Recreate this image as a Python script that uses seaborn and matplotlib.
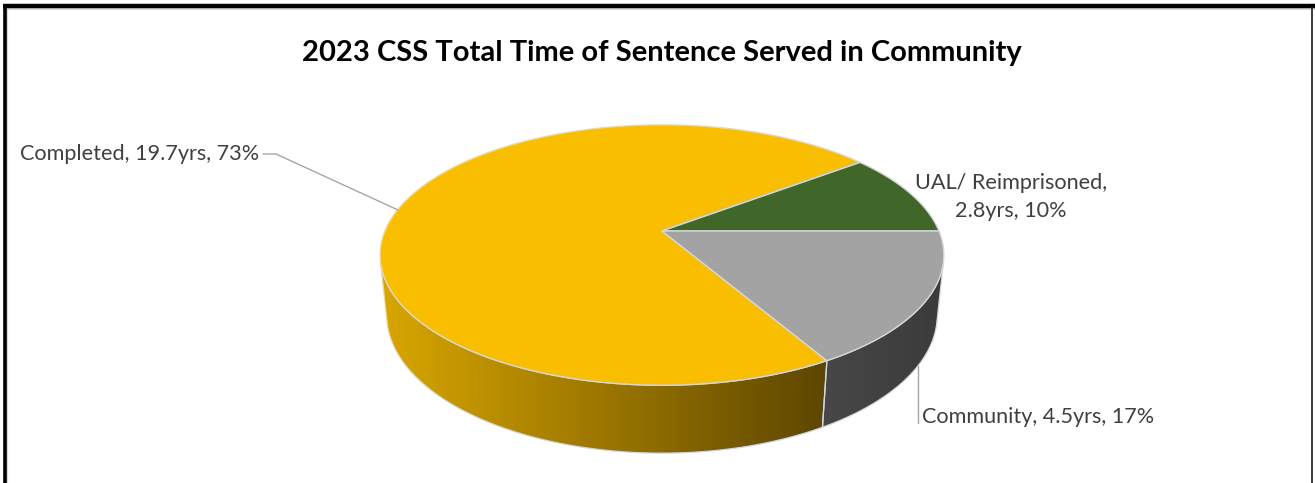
import numpy as np
import matplotlib
matplotlib.use("Agg")
import matplotlib.pyplot as plt
from matplotlib.patches import Polygon
from matplotlib.colors import LinearSegmentedColormap
import seaborn as sns

# ---- data -------------------------------------------------------------
title = "2023 CSS Total Time of Sentence Served in Community"
categories = ["Completed", "UAL/ Reimprisoned", "Community"]
years = [19.7, 2.8, 4.5]
top_colors = ["#F9BE00", "#41662A", "#A3A3A3"]
side_colors = [("#D9A600", "#5D4600"), ("#2C4A1C", "#2C4A1C"), ("#474747", "#3B3B3B")]

sns.set_theme(style="white")
plt.rcParams["font.family"] = ["Lato", "DejaVu Sans"]

W, H = 1315, 483
fig = plt.figure(figsize=(W / 100, H / 100), dpi=100)
fig.patch.set_facecolor("white")
ax = fig.add_axes([0, 0, 1, 1])
ax.set_xlim(0, W)
ax.set_ylim(H, 0)
ax.axis("off")

# ---- perspective camera for the tilted disc ---------------------------
cx, cy = 662, 231          # screen position of the disc centre
alpha = np.radians(27)     # elevation of the view
D = 4.82                   # camera distance (disc radius = 1)
f = 1335                   # focal scale in pixels
t = 0.245                  # disc thickness


def project(theta_deg, z=0.0):
    th = np.radians(theta_deg)
    x, y = np.cos(th), np.sin(th)
    v = y * np.sin(alpha) + z * np.cos(alpha)
    d = D + y * np.cos(alpha) - z * np.sin(alpha)
    return cx + f * x / d, cy - f * v / d


# front-facing part of the outer wall
edge = np.degrees(np.arcsin(1.0 / (D * np.cos(alpha))))
vis_lo, vis_hi = 180 + edge, 360 - edge

total = sum(years)
fracs = [v / total for v in years]
start = -60.0
spans = []
for fr in fracs:
    a0 = start
    a1 = start - 360 * fr
    spans.append((a1, a0))
    start = a1

edge_col = "#D6D6D6"

# walls first
for (a1, a0), (c_light, c_dark) in zip(spans, side_colors):
    for k in (-2, -1, 0, 1):
        lo = max(a1, vis_lo + 360 * k)
        hi = min(a0, vis_hi + 360 * k)
        if hi <= lo:
            continue
        th = np.linspace(lo, hi, 200)
        top = np.array([project(a) for a in th])
        bot = np.array([project(a, -t) for a in th[::-1]])
        pts = np.vstack([top, bot])
        poly = Polygon(pts, closed=True, facecolor="none",
                       edgecolor=edge_col, lw=0.9, zorder=3)
        ax.add_patch(poly)
        x0, x1 = pts[:, 0].min(), pts[:, 0].max()
        y0, y1 = pts[:, 1].min(), pts[:, 1].max()
        cmap = LinearSegmentedColormap.from_list("wall", [c_light, c_dark])
        grad = np.linspace(0, 1, 256)[None, :]
        im = ax.imshow(grad, cmap=cmap, extent=(x0, x1, y1, y0),
                       aspect="auto", zorder=2, interpolation="bilinear")
        im.set_clip_path(poly)

# top surface wedges
for (a1, a0), col in zip(spans, top_colors):
    th = np.linspace(a0, a1, 400)
    arc = np.array([project(a) for a in th])
    pts = np.vstack([[cx, cy], arc])
    ax.add_patch(Polygon(pts, closed=True, facecolor=col,
                         edgecolor=edge_col, lw=1.0, zorder=4))

# ---- labels -----------------------------------------------------------
lab_col = "#404040"
line_col = "#A6A6A6"
lab_size = 15.6
pct = [round(100 * fr) for fr in fracs]
texts = [f"{c}, {y}yrs, {p}%" for c, y, p in zip(categories, years, pct)]

# Completed
ax_pt = project(170)
ax.plot([263, 276, ax_pt[0]], [154, 154, ax_pt[1]], color=line_col, lw=1.0, zorder=5)
ax.text(259, 154, texts[0], ha="right", va="center", fontsize=lab_size,
        color=lab_col, zorder=6)

# UAL / Reimprisoned
ax.text(1011, 197, f"{categories[1]},\n{years[1]}yrs, {pct[1]}%", ha="center",
        va="center", fontsize=lab_size, color=lab_col, linespacing=1.55, zorder=6)

# Community
cp = project(-30, -t)
ax.plot([cp[0] - 2, cp[0] - 2], [cp[1] + 2, 423], color=line_col, lw=1.0, zorder=5)
ax.text(922, 417, texts[2], ha="left", va="center", fontsize=lab_size,
        color=lab_col, zorder=6)

# ---- title --------------------------------------------------------------
ax.text(662, 53, title, ha="center", va="center", fontsize=21,
        fontweight="bold", color="black", zorder=6)

# ---- chart frame --------------------------------------------------------
ax.plot([6, 6], [H, 7], color="#D9D9D9", lw=3.0, solid_capstyle="butt", zorder=7)
ax.plot([6, W], [9, 9], color="#D9D9D9", lw=1.5, solid_capstyle="butt", zorder=7)
ax.plot([5, 5], [H, 5], color="black", lw=2.6, solid_capstyle="butt", zorder=8)
ax.plot([3.5, W], [6, 6], color="black", lw=3.2, solid_capstyle="butt", zorder=8)
ax.plot([1312, 1312], [H, 8], color="#3A3A3A", lw=1.4, zorder=8)

fig.savefig("out.png", dpi=100, facecolor="white")
